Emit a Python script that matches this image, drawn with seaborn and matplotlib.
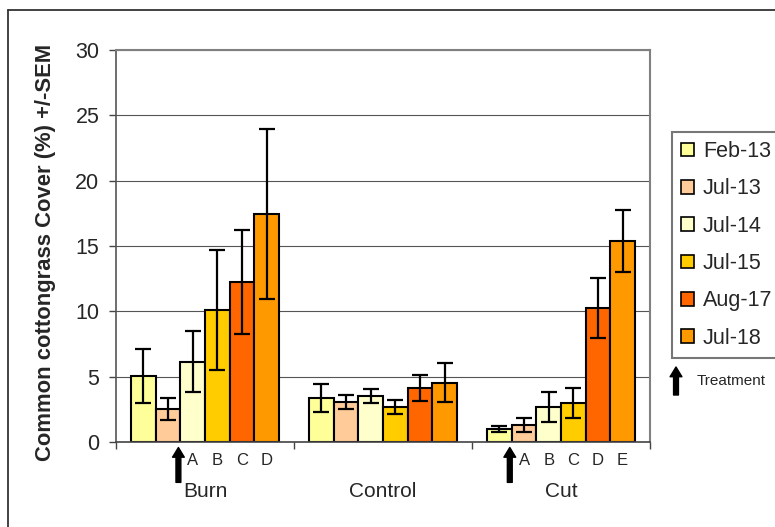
import matplotlib
matplotlib.use("Agg")
import matplotlib.pyplot as plt
import matplotlib.transforms as mtransforms
import seaborn as sns
import pandas as pd

# ---- data ----
sites = ["Burn", "Control", "Cut"]
dates = ["Feb-13", "Jul-13", "Jul-14", "Jul-15", "Aug-17", "Jul-18"]
colors = ["#FFFF99", "#FFCC99", "#FFFFCC", "#FFCC00", "#FF6600", "#FF9900"]

burn_mean = [5.05, 2.55, 6.15, 10.1, 12.25, 17.45]
burn_sem = [2.07, 0.85, 2.31, 4.6, 4.0, 6.5]
control_mean = [3.35, 3.05, 3.5, 2.7, 4.1, 4.55]
control_sem = [1.08, 0.56, 0.53, 0.54, 1.0, 1.52]
cut_mean = [1.0, 1.3, 2.7, 3.0, 10.25, 15.35]
cut_sem = [0.2, 0.55, 1.16, 1.13, 2.32, 2.37]

burn_letters = ["", "", "A", "B", "C", "D"]
cut_letters = ["", "A", "B", "C", "D", "E"]
treatment_bar = {"Burn": 1, "Cut": 0}   # bar after which treatment happened

yticks = [0, 5, 10, 15, 20, 25, 30]
ylabel = "Common cottongrass Cover (%) +/-SEM"

means = {"Burn": burn_mean, "Control": control_mean, "Cut": cut_mean}
sems = {"Burn": burn_sem, "Control": control_sem, "Cut": cut_sem}
letters = {"Burn": burn_letters, "Cut": cut_letters}

rows = []
for s in sites:
    for d, m, e in zip(dates, means[s], sems[s]):
        rows.append({"site": s, "date": d, "cover": m, "sem": e})
df = pd.DataFrame(rows)

# ---- figure ----
sns.set_style("white")
plt.rcParams["font.family"] = ["Liberation Sans", "DejaVu Sans"]

W, H = 775, 527
fig = plt.figure(figsize=(W / 100, H / 100), dpi=100)
ax = fig.add_axes([116 / W, 1 - 442 / H, (650 - 116) / W, (442 - 50) / H])

sns.barplot(data=df, x="site", y="cover", hue="date", order=sites,
            hue_order=dates, palette=colors, width=0.83, errorbar=None,
            edgecolor="black", linewidth=1.5, saturation=1, ax=ax)
bar_conts = list(ax.containers)

# error bars
for i, cont in enumerate(bar_conts):
    for j, bar in enumerate(cont):
        s = sites[j]
        xc = bar.get_x() + bar.get_width() / 2
        ax.errorbar(xc, means[s][i], yerr=sems[s][i], fmt="none",
                    ecolor="black", elinewidth=1.6, capsize=5.5,
                    capthick=1.6, zorder=5)

ax.set_xlim(-0.5, 2.5)
ax.set_ylim(0, 30)
ax.set_yticks(yticks)
ax.set_yticklabels([str(t) for t in yticks], fontsize=15.5)
ax.yaxis.grid(True, color="#555555", linewidth=0.8)
ax.set_axisbelow(True)

ax.set_xticks([-0.5, 0.5, 1.5, 2.5])
ax.set_xticklabels([])
ax.set_xticks([0, 1, 2], minor=True)
ax.set_xticklabels(sites, minor=True, fontsize=15)
ax.tick_params(axis="x", which="major", direction="out", length=5,
               width=1, color="#444444", bottom=True)
ax.tick_params(axis="x", which="minor", length=0, pad=29)
ax.tick_params(axis="y", direction="out", length=5, width=1,
               color="#444444", left=True, pad=7)
ax.set_xlabel("")

ax.set_ylabel(ylabel, fontsize=15.8, fontweight="bold")
ax.yaxis.label.set_va("center")
ax.yaxis.set_label_coords((46 - 116) / (650 - 116), 0.484)

for side in ["top", "right"]:
    ax.spines[side].set_visible(True)
    ax.spines[side].set_color("#808080")
    ax.spines[side].set_linewidth(1.5)
ax.spines["left"].set_color("#555555")
ax.spines["left"].set_linewidth(1.2)
ax.spines["bottom"].set_color("#444444")
ax.spines["bottom"].set_linewidth(1.2)

# letters and treatment arrows
trans = mtransforms.blended_transform_factory(ax.transData, ax.transAxes)
for j, s in enumerate(sites):
    if s not in letters:
        continue
    for i, cont in enumerate(bar_conts):
        bar = cont[j]
        xc = bar.get_x() + bar.get_width() / 2
        if letters[s][i]:
            ax.text(xc, -0.047, letters[s][i], transform=trans,
                    ha="center", va="center", fontsize=12)
    tb = bar_conts[treatment_bar[s]][j]
    xa = tb.get_x() + tb.get_width() * 0.92
    ax.annotate("", xy=(xa, -0.014), xytext=(xa, -0.103),
                xycoords=trans, textcoords=trans,
                arrowprops=dict(facecolor="black", edgecolor="black",
                                width=3.5, headwidth=8.5, headlength=7,
                                shrink=0), annotation_clip=False)

# legend (frame runs past the right edge of the figure, as in the original)
leg = ax.legend(loc="upper left",
                bbox_to_anchor=(672 / W, 0, 0.16, 1 - 132 / H),
                bbox_transform=fig.transFigure, borderaxespad=0,
                mode="expand",
                fontsize=15.5, frameon=True, fancybox=False,
                handlelength=0.6, handleheight=0.6, handletextpad=0.42,
                labelspacing=0.76, borderpad=0.42, title=None)
leg.get_frame().set_edgecolor("#555555")
leg.get_frame().set_linewidth(1.5)
for h in leg.legend_handles:
    h.set_edgecolor("black")
    h.set_linewidth(1.2)

# treatment key
ax.annotate("", xy=(676, H - 367), xytext=(676, H - 395),
            xycoords="figure pixels", textcoords="figure pixels",
            arrowprops=dict(facecolor="black", edgecolor="black",
                            width=3.5, headwidth=8.5, headlength=7, shrink=0),
            annotation_clip=False)
fig.text(697 / W, 1 - 381 / H, "Treatment", fontsize=11,
         ha="left", va="center")

# outer border
fig.add_artist(plt.Line2D([8 / W, 8 / W], [0, 1 - 10 / H],
                          transform=fig.transFigure, color="#333333", lw=1.3))
fig.add_artist(plt.Line2D([8 / W, 1], [1 - 10 / H, 1 - 10 / H],
                          transform=fig.transFigure, color="#333333", lw=1.3))

fig.savefig("out.png", dpi=100)
